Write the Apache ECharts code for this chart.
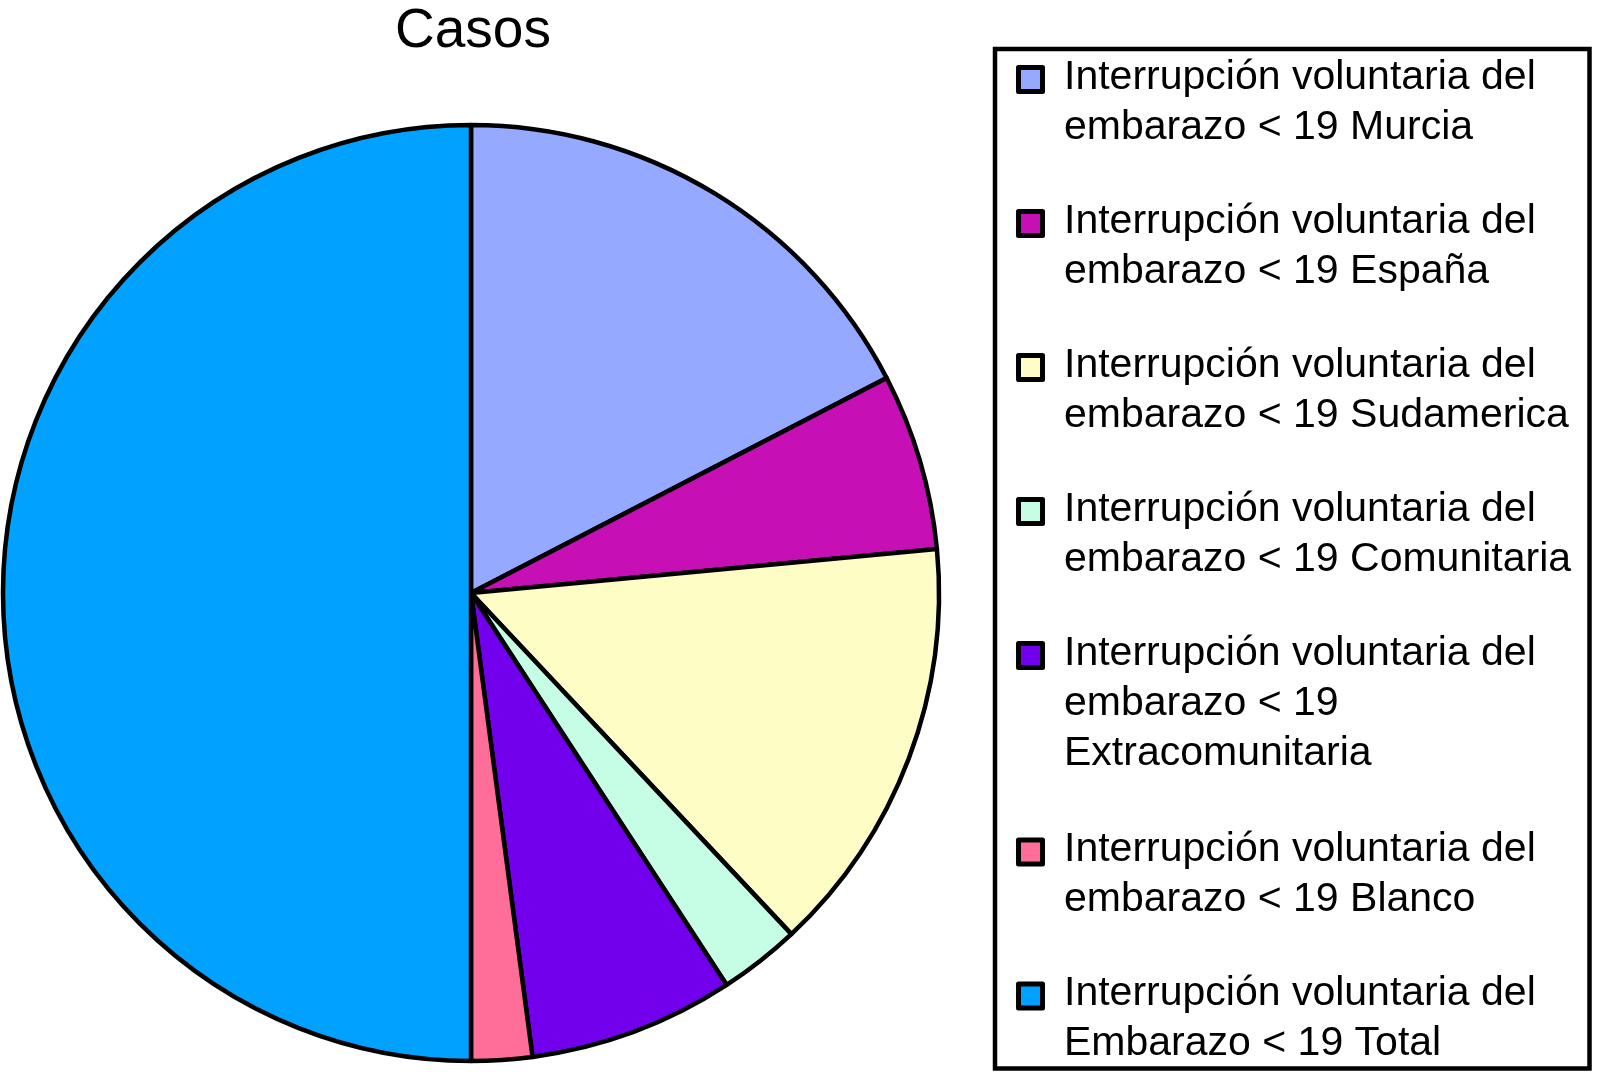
<!DOCTYPE html>
<html>
<head>
<meta charset="utf-8">
<script src="https://cdn.jsdelivr.net/npm/echarts@6/dist/echarts.min.js"></script>
<style>
  html, body { margin: 0; padding: 0; background: #ffffff; }
  #chart { width: 1597px; height: 1076px; }
</style>
</head>
<body>
<div id="chart"></div>
<script>
// ---- data ----
const chartTitle = 'Casos';
const categories = [
  'Interrupción voluntaria del\nembarazo < 19 Murcia',
  'Interrupción voluntaria del\nembarazo < 19 España',
  'Interrupción voluntaria del\nembarazo < 19 Sudamerica',
  'Interrupción voluntaria del\nembarazo < 19 Comunitaria',
  'Interrupción voluntaria del\nembarazo < 19\nExtracomunitaria',
  'Interrupción voluntaria del\nembarazo < 19 Blanco',
  'Interrupción voluntaria del\nEmbarazo < 19 Total'
];
const values = [174, 61, 145, 28, 71, 21, 500];
const colors = ['#94A9FF', '#C70FB6', '#FFFDC6', '#C6FDE5', '#7200EC', '#FF6E98', '#00A1FF'];

// ---- layout ----
const LINE_H = 50;
const ICON_W = 43;
const legendLeft = 1013.5;
const legendTops = [50, 194, 338, 482, 626, 822.5, 966.5];

function iconPath(lines) {
  const h = lines * LINE_H;
  const c = LINE_H / 2 + 2;
  return 'path://M0 0 M' + ICON_W + ' ' + h +
    ' M2.5 ' + (c - 12) + ' L26.5 ' + (c - 12) + ' L26.5 ' + (c + 12) + ' L2.5 ' + (c + 12) + ' Z';
}

const legends = categories.map(function (name, i) {
  const lines = name.split('\n').length;
  return {
    show: true,
    orient: 'vertical',
    left: legendLeft,
    top: legendTops[i],
    padding: 0,
    data: [name],
    icon: iconPath(lines),
    itemWidth: ICON_W,
    itemHeight: lines * LINE_H,
    selectedMode: false,
    itemStyle: { borderColor: '#000', borderWidth: 5 },
    textStyle: {
      fontFamily: 'Liberation Sans',
      fontSize: 41,
      lineHeight: LINE_H,
      color: '#000'
    }
  };
});

const chart = echarts.init(document.getElementById('chart'), null, { renderer: 'canvas' });
chart.setOption({
  backgroundColor: '#ffffff',
  animation: false,
  title: {
    text: chartTitle,
    left: 395,
    top: 4,
    padding: 0,
    textStyle: {
      fontFamily: 'Liberation Sans',
      fontSize: 55,
      lineHeight: 56,
      fontWeight: 'normal',
      color: '#000'
    }
  },
  legend: legends,
  graphic: [{
    type: 'rect',
    shape: { x: 995, y: 49, width: 594.5, height: 1019.5 },
    style: { fill: 'none', stroke: '#000', lineWidth: 4.5 },
    silent: true
  }],
  series: [{
    type: 'pie',
    center: [471, 593],
    radius: 468,
    startAngle: 90,
    clockwise: true,
    silent: true,
    label: { show: false },
    labelLine: { show: false },
    emphasis: { disabled: true },
    itemStyle: { borderColor: '#000', borderWidth: 4.5 },
    data: categories.map(function (name, i) {
      return { name: name, value: values[i], itemStyle: { color: colors[i] } };
    })
  }]
});
</script>
</body>
</html>
